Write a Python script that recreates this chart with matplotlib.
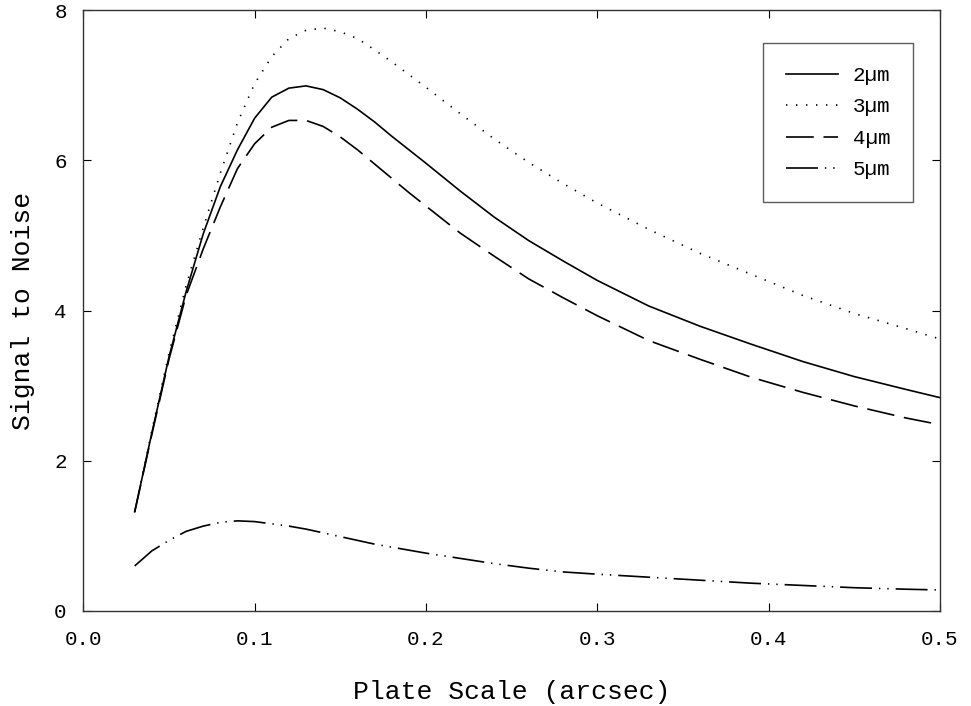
import matplotlib
matplotlib.use("Agg")
import matplotlib.pyplot as plt

plt.rcParams['font.family'] = ['Liberation Mono', 'DejaVu Sans Mono']
plt.rcParams['lines.scale_dashes'] = False

plate_scale = [0.03, 0.04, 0.05, 0.06, 0.07, 0.08, 0.09, 0.10, 0.11, 0.12,
               0.13, 0.14, 0.15, 0.16, 0.17, 0.18, 0.19, 0.20, 0.22, 0.24,
               0.26, 0.28, 0.30, 0.33, 0.36, 0.39, 0.42, 0.45, 0.48, 0.50]

snr_2um = [1.32, 2.37, 3.38, 4.25, 5.02, 5.65, 6.14, 6.56, 6.84, 6.96,
           6.99, 6.94, 6.83, 6.68, 6.51, 6.32, 6.14, 5.96, 5.59, 5.24,
           4.93, 4.66, 4.40, 4.06, 3.79, 3.55, 3.32, 3.12, 2.95, 2.84]

snr_3um = [1.32, 2.40, 3.43, 4.33, 5.10, 5.83, 6.50, 7.02, 7.38, 7.62,
           7.73, 7.76, 7.71, 7.62, 7.47, 7.31, 7.14, 6.97, 6.62, 6.28,
           5.97, 5.69, 5.43, 5.08, 4.76, 4.48, 4.20, 3.96, 3.76, 3.62]

snr_4um = [1.32, 2.35, 3.35, 4.20, 4.82, 5.38, 5.89, 6.22, 6.44, 6.53,
           6.53, 6.45, 6.31, 6.14, 5.95, 5.76, 5.57, 5.39, 5.03, 4.72,
           4.42, 4.17, 3.93, 3.60, 3.35, 3.11, 2.91, 2.73, 2.57, 2.48]

snr_5um = [0.60, 0.80, 0.94, 1.06, 1.13, 1.18, 1.20, 1.19, 1.16, 1.13,
           1.09, 1.04, 0.99, 0.94, 0.89, 0.85, 0.81, 0.77, 0.70, 0.63,
           0.57, 0.52, 0.49, 0.45, 0.41, 0.37, 0.34, 0.31, 0.29, 0.28]

labels = ["2µm", "3µm", "4µm", "5µm"]
x_ticks = [0.0, 0.1, 0.2, 0.3, 0.4, 0.5]
x_ticklabels = ["0.0", "0.1", "0.2", "0.3", "0.4", "0.5"]
y_ticks = [0, 2, 4, 6, 8]

fig = plt.figure(figsize=(9.71, 7.06), dpi=100)
ax = fig.add_axes([83.3 / 971, 1 - 611 / 706, (940 - 83.3) / 971, (611 - 10) / 706])

lw = 1.2
ax.plot(plate_scale, snr_2um, color='black', lw=lw, linestyle='-', label=labels[0])
ax.plot(plate_scale, snr_3um, color='black', lw=lw, linestyle=(0, (1.0, 6.2)), label=labels[1])
ax.plot(plate_scale, snr_4um, color='black', lw=lw, linestyle=(0, (20, 7)), label=labels[2])
ax.plot(plate_scale, snr_5um, color='black', lw=lw,
        linestyle=(0, (23, 5, 1, 5, 1, 5)), label=labels[3])

ax.set_xlim(0, 0.5)
ax.set_ylim(0, 8)
ax.set_xticks(x_ticks)
ax.set_xticklabels(x_ticklabels)
ax.set_yticks(y_ticks)
ax.tick_params(direction='in', length=6, width=0.8, top=True, right=True,
               labelsize=15, pad=12)
ax.tick_params(axis='x', pad=14)
for s in ax.spines.values():
    s.set_linewidth(1.0)
    s.set_color('#333333')

ax.set_xlabel("Plate Scale (arcsec)", fontsize=19, labelpad=22)
ax.set_ylabel("Signal to Noise", fontsize=19, labelpad=14)

leg = ax.legend(loc='upper right', bbox_to_anchor=(913 / 971, 663 / 706),
                bbox_transform=fig.transFigure, fontsize=15, frameon=True,
                fancybox=False, edgecolor='#333333', handlelength=2.5,
                handletextpad=0.7, labelspacing=0.6, borderpad=1.1,
                borderaxespad=0)
leg.get_frame().set_linewidth(1.0)

fig.savefig("out.png", dpi=100)
